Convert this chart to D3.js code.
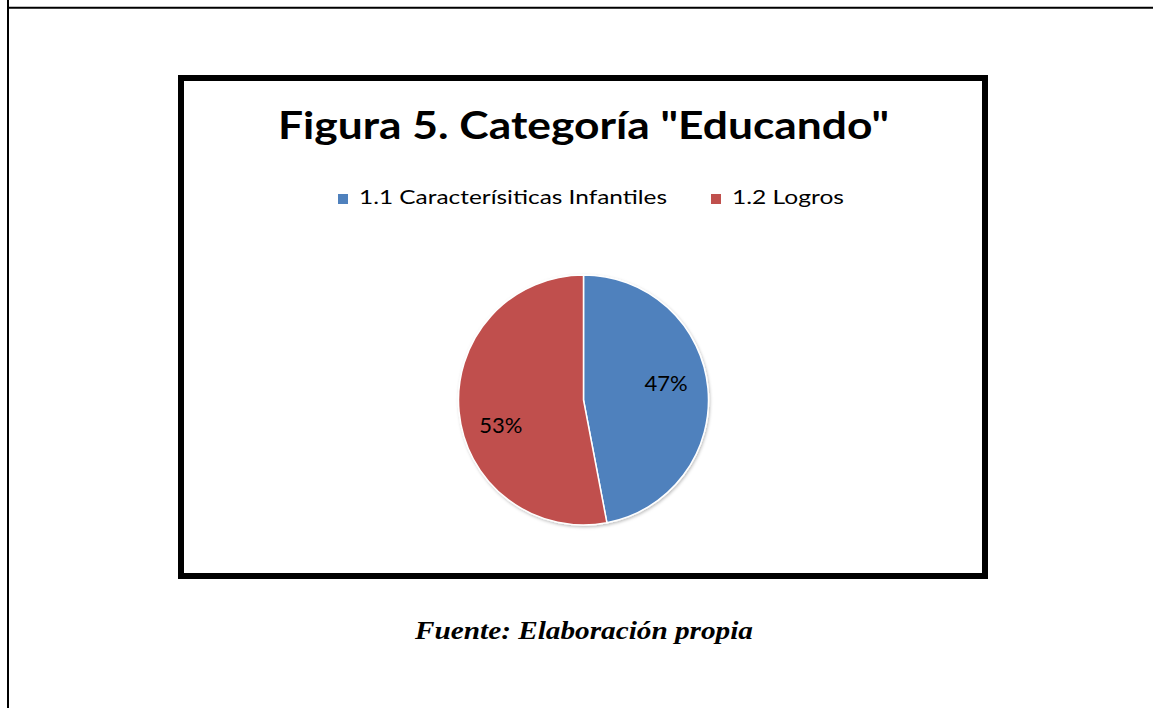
<!DOCTYPE html>
<html><head><meta charset="utf-8">
<script src="https://cdn.jsdelivr.net/npm/d3@7"></script>
<style>html,body{margin:0;padding:0;background:#fff;overflow:hidden}</style>
</head><body>
<svg id="c" width="1153" height="708"></svg>
<script>
const titleText = 'Figura 5. Categoría "Educando"';
const categories = ["1.1 Caracterísiticas Infantiles", "1.2 Logros"];
const values = [47, 53];
const colors = ["#4F81BD", "#C0504D"];
const sourceText = "Fuente: Elaboración propia";
const labelNudge = [[1, -10], [-1, 17]];

const svg = d3.select("#c");
// page frame lines
svg.append("line").attr("x1", 8).attr("x2", 8).attr("y1", 0).attr("y2", 708).attr("stroke", "#000").attr("stroke-width", 2);
svg.append("line").attr("x1", 8).attr("x2", 1153).attr("y1", 7.7).attr("y2", 7.7).attr("stroke", "#000").attr("stroke-width", 2);

// chart box
svg.append("rect").attr("x", 181).attr("y", 78).attr("width", 804).attr("height", 498)
  .attr("fill", "#fff").attr("stroke", "#000").attr("stroke-width", 6);

function fitText(sel, w) {
  sel.attr("textLength", w).attr("lengthAdjust", "spacingAndGlyphs");
}

// title
const t = svg.append("text").attr("x", 278).attr("y", 139)
  .attr("font-family", "Lato, 'Open Sans', sans-serif").attr("font-weight", "bold")
  .attr("font-size", 38).attr("fill", "#000").text(titleText);
fitText(t, 611);

// legend
const legX = [338, 711];
const legW = [308, 112];
const leg = svg.append("g");
categories.forEach((c, i) => {
  leg.append("rect").attr("x", legX[i]).attr("y", 194).attr("width", 10).attr("height", 10).attr("fill", colors[i]);
  const tx = leg.append("text").attr("x", legX[i] + 21).attr("y", 204)
    .attr("font-family", "Lato, 'Open Sans', sans-serif").attr("font-size", 19).attr("fill", "#000").text(c);
  fitText(tx, legW[i]);
});

// pie
const cx = 583.5, cy = 400, r = 125;
const pie = d3.pie().sort(null).value(d => d);
const arcs = pie(values);
const arc = d3.arc().innerRadius(0).outerRadius(r);
const labelArc = d3.arc().innerRadius(82).outerRadius(82);
const defs = svg.append("defs");
const f = defs.append("filter").attr("id", "sh").attr("x", "-20%").attr("y", "-20%").attr("width", "140%").attr("height", "140%");
f.append("feDropShadow").attr("dx", 1).attr("dy", 1.5).attr("stdDeviation", 1.5).attr("flood-color", "#000").attr("flood-opacity", 0.25);
const g = svg.append("g").attr("transform", `translate(${cx},${cy})`);
g.append("g").attr("filter", "url(#sh)").selectAll("path").data(arcs).join("path")
  .attr("d", arc).attr("fill", (d, i) => colors[i]).attr("stroke", "#fff").attr("stroke-width", 1.5);
g.selectAll("text.lbl").data(arcs).join("text").attr("class", "lbl")
  .attr("transform", (d, i) => { const p = labelArc.centroid(d); return `translate(${p[0] + labelNudge[i][0]},${p[1] + labelNudge[i][1]})`; })
  .attr("text-anchor", "middle").attr("dominant-baseline", "central")
  .attr("font-family", "Lato, 'Open Sans', sans-serif").attr("font-size", 22).attr("fill", "#000")
  .text(d => d.data + "%");

// source
const s = svg.append("text").attr("x", 584).attr("y", 639).attr("text-anchor", "middle")
  .attr("font-family", "'Liberation Serif', 'Times New Roman', serif").attr("font-weight", "bold").attr("font-style", "italic")
  .attr("font-size", 25).attr("fill", "#000").text(sourceText);
fitText(s, 338);
</script>
</body></html>
